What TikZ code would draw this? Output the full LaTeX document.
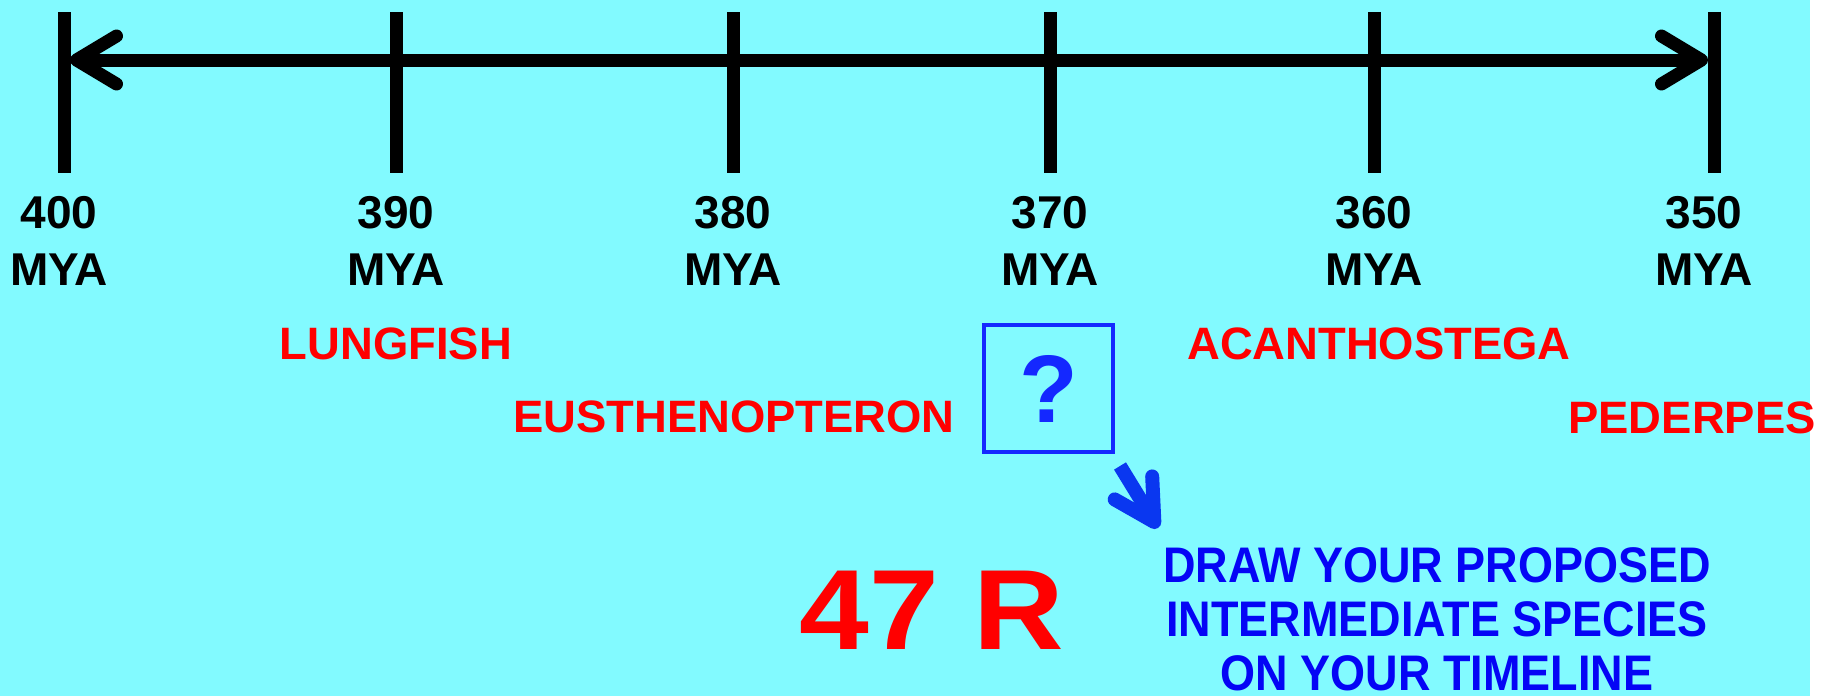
\documentclass[tikz,border=0pt]{standalone}
\usepackage{fontspec}
\setmainfont{Liberation Sans}
\usetikzlibrary{arrows.meta}
\definecolor{bgcyan}{RGB}{130,250,255}
\definecolor{boxblue}{RGB}{20,40,255}
\definecolor{arrblue}{RGB}{10,55,240}
\definecolor{txtblue}{RGB}{5,5,245}
\definecolor{redtxt}{RGB}{255,0,0}
\tikzset{
  tickline/.style={line width=6.5pt},
  axisline/.style={line width=6.5pt,{Straight Barb[length=20pt,width=24pt,round]}-{Straight Barb[length=20pt,width=24pt,round]}},
  yearlbl/.style={align=center,font=\bfseries\fontsize{23pt}{28.5pt}\selectfont,inner sep=0pt},
  species/.style={text=redtxt,font=\bfseries\fontsize{22.7pt}{27pt}\selectfont,inner sep=0pt},
  qbox/.style={draw=boxblue,line width=2pt,minimum width=64.5pt,minimum height=63.5pt,inner sep=0pt,text=boxblue,font=\bfseries\fontsize{48pt}{52pt}\selectfont},
  bluearrow/.style={draw=arrblue,line width=7pt,-{Straight Barb[length=20pt,width=22pt,round]}},
  instr/.style={align=center,text=txtblue,font=\bfseries\fontsize{25pt}{27pt}\selectfont,inner sep=0pt,xscale=0.9},
  bignum/.style={text=redtxt,font=\bfseries\fontsize{57pt}{60pt}\selectfont,inner sep=0pt,xscale=1.1}
}
\begin{document}
\begin{tikzpicture}[x=0.5pt,y=-0.5pt]
\useasboundingbox (0,0) rectangle (1837,696);
\fill[white] (0,0) rectangle (1837,696);
\fill[bgcyan] (0,0) rectangle (1810,696);
% ticks
\foreach \x/\lx/\n [count=\i] in {64/59/400,396/396/390,733/733/380,1050/1050/370,1374/1374/360,1714/1704/350} {
  \coordinate (ttop\i) at (\x,12);
  \coordinate (tbot\i) at (\x,173);
  \coordinate (tmid\i) at (\x,60);
  \draw[tickline] (ttop\i) -- (tbot\i);
  \node[yearlbl] (y\i) at (\lx,241) {\n\\MYA};
}
\draw[axisline] ([xshift=3pt]tmid1) -- ([xshift=-3pt]tmid6);
% species
\node[species] (lung) at (396,344) {LUNGFISH};
\node[species] (acan) at (1379,344) {ACANTHOSTEGA};
\node[species] (eust) at (734,417) {EUSTHENOPTERON};
\node[species] (pede) at (1692,418) {PEDERPES};
% question box
\node[qbox] (q) at (1048.5,388.5) {?};
% instruction
\node[instr] (ins) at (1437,619) {DRAW YOUR PROPOSED\\INTERMEDIATE SPECIES\\ON YOUR TIMELINE};
\coordinate (a1) at (1120,466);
\coordinate (a2) at (1158,528);
\draw[bluearrow] (a1) -- (a2);
% big label
\node[bignum] (num) at (932,610) {47 R};
\end{tikzpicture}
\end{document}
